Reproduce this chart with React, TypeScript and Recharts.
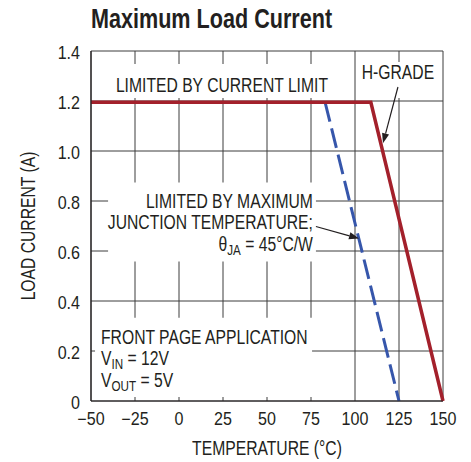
import React from "react";
import {
  CartesianGrid,
  Line,
  LineChart,
  ReferenceArea,
  ReferenceDot,
  ReferenceLine,
  XAxis,
  YAxis,
} from "recharts";

const FONT = "'Liberation Sans', Arial, sans-serif";
const SX = 0.805; // horizontal squeeze to mimic a condensed face
const FS = 19.5;
const TICK_SX = 0.92;
const TICK_FS = 17.5;
const INK = "#231f20";
const GRID = "#3c3c3c";
const RED = "#a3202b";
const BLUE = "#3656ab";

const tempTicks = [-50, -25, 0, 25, 50, 75, 100, 125, 150];
const currentTicks = [0, 0.2, 0.4, 0.6, 0.8, 1.0, 1.2, 1.4];

// H-grade: flat at current limit, then derates to zero at 150°C
const hGradeTemp = [-50, 109, 150];
const hGradeAmps = [1.195, 1.195, 0];

// junction temperature limit, θJA = 45°C/W
const tjTemp = [83, 125];
const tjAmps = [1.195, 0];

const hGrade = hGradeTemp.map((t, i) => ({ t, a: hGradeAmps[i] }));
const tjLimit = tjTemp.map((t, i) => ({ t, a: tjAmps[i] }));

// white label boxes (data coords) that hide the grid under the notes
const boxes = [
  { x1: -39, x2: 88.5, y1: 1.212, y2: 1.348 },
  { x1: 101.7, x2: 148.5, y1: 1.212, y2: 1.356 },
  { x1: -40.3, x2: 77.8, y1: 0.558, y2: 0.874 },
  { x1: -47.7, x2: 75.6, y1: 0.016, y2: 0.333 },
];

const fmtTemp = (v: number) => (v < 0 ? `\u2212${Math.abs(v)}` : `${v}`);
const fmtAmp = (v: number) => (v === 0 ? "0" : v.toFixed(1));

function Squeezed({
  x, y, anchor, rotate = 0, dy, sx = SX, size = FS, children,
}: {
  x: number; y: number; anchor: "start" | "middle" | "end"; rotate?: number; dy?: string;
  sx?: number; size?: number; children: React.ReactNode;
}) {
  return (
    <g transform={`translate(${x},${y}) rotate(${rotate}) scale(${sx},1)`}>
      <text x={0} y={0} dy={dy} textAnchor={anchor} fontFamily={FONT} fontSize={size} fill={INK}>
        {children}
      </text>
    </g>
  );
}

const XTick = (p: any) => (
  <Squeezed x={p.x} y={p.y} anchor="middle" dy="0.71em" sx={TICK_SX} size={TICK_FS}>
    {fmtTemp(p.payload.value)}
  </Squeezed>
);
const YTick = (p: any) => (
  <Squeezed x={p.x} y={p.y + 2} anchor="end" dy="0.355em" sx={TICK_SX} size={TICK_FS}>
    {fmtAmp(p.payload.value)}
  </Squeezed>
);

function sub(base: string, s: string, rest: string) {
  return [
    <tspan key="b">{base}</tspan>,
    <tspan key="s" fontSize={14.5} dy={4}>{s}</tspan>,
    <tspan key="r" dy={-4}>{rest}</tspan>,
  ];
}

function note(lines: React.ReactNode[], anchor: "start" | "middle" | "end", lead = 21.5) {
  return (p: any) => (
    <g transform={`translate(${p.cx},${p.cy}) scale(${SX},1)`}>
      <text textAnchor={anchor} fontFamily={FONT} fontSize={FS} fill={INK}>
        {lines.map((l, i) => (
          <tspan key={i} x={0} y={i * lead}>
            {l}
          </tspan>
        ))}
      </text>
    </g>
  );
}

function Arrow(p: any) {
  const { x1, y1, x2, y2 } = p;
  const ang = Math.atan2(y2 - y1, x2 - x1);
  const L = 10;
  const W = 3.6;
  const bx = x2 - L * Math.cos(ang);
  const by = y2 - L * Math.sin(ang);
  const nx = -Math.sin(ang) * W;
  const ny = Math.cos(ang) * W;
  return (
    <g>
      <line x1={x1} y1={y1} x2={bx} y2={by} stroke={INK} strokeWidth={1.2} />
      <polygon points={`${x2},${y2} ${bx + nx},${by + ny} ${bx - nx},${by - ny}`} fill={INK} />
    </g>
  );
}

export default function App() {
  return (
    <div style={{ position: "absolute", left: 0, top: 0, width: 471, height: 462, background: "#fff" }}>
      <div
        style={{
          position: "absolute",
          left: 91,
          top: 5,
          fontFamily: FONT,
          fontWeight: 700,
          fontSize: 27.5,
          lineHeight: "27.5px",
          color: INK,
          whiteSpace: "nowrap",
          transform: "scaleX(0.785)",
          transformOrigin: "left top",
        }}
      >
        Maximum Load Current
      </div>
      <LineChart width={471} height={462} margin={{ top: 51, right: 28, bottom: 0, left: 0 }}>
        <CartesianGrid stroke={GRID} strokeWidth={1} />
        <XAxis
          type="number"
          dataKey="t"
          domain={[-50, 150]}
          ticks={tempTicks}
          tick={XTick}
          tickLine={false}
          tickSize={0}
          tickMargin={12}
          height={61}
          axisLine={{ stroke: INK, strokeWidth: 1.2 }}
          label={(p: any) => {
            const vb = p.viewBox;
            return (
              <Squeezed x={vb.x + vb.width / 2} y={vb.y + 54} anchor="middle">
                TEMPERATURE (°C)
              </Squeezed>
            );
          }}
        />
        <YAxis
          type="number"
          domain={[0, 1.4]}
          ticks={currentTicks}
          tick={YTick}
          tickLine={false}
          tickSize={0}
          tickMargin={11}
          width={91}
          axisLine={{ stroke: INK, strokeWidth: 1.2 }}
          label={(p: any) => {
            const vb = p.viewBox;
            return (
              <Squeezed x={vb.x + 28} y={vb.y + vb.height / 2} anchor="middle" rotate={-90} dy="0.355em">
                LOAD CURRENT (A)
              </Squeezed>
            );
          }}
        />
        {boxes.map((b, i) => (
          <ReferenceArea key={i} {...b} fill="#fff" fillOpacity={1} stroke="none" />
        ))}
        <Line
          data={tjLimit}
          dataKey="a"
          type="linear"
          stroke={BLUE}
          strokeWidth={3}
          strokeDasharray="20 7"
          dot={false}
          isAnimationActive={false}
        />
        <Line
          data={hGrade}
          dataKey="a"
          type="linear"
          stroke={RED}
          strokeWidth={3.5}
          dot={false}
          isAnimationActive={false}
        />
        <ReferenceLine segment={[{ x: 124.4, y: 1.256 }, { x: 115.9, y: 1.031 }]} shape={Arrow} />
        <ReferenceLine segment={[{ x: 77.8, y: 0.698 }, { x: 102.3, y: 0.65 }]} shape={Arrow} />
        <ReferenceDot x={24.4} y={1.238} r={0} shape={note(["LIMITED BY CURRENT LIMIT"], "middle")} />
        <ReferenceDot x={124.4} y={1.289} r={0} shape={note(["H-GRADE"], "middle")} />
        <ReferenceDot
          x={76.1}
          y={0.774}
          r={0}
          shape={note(
            ["LIMITED BY MAXIMUM", "JUNCTION TEMPERATURE;", sub("θ", "JA", " = 45°C/W")],
            "end",
            22
          )}
        />
        <ReferenceDot
          x={-44.3}
          y={0.229}
          r={0}
          shape={note(
            ["FRONT PAGE APPLICATION", sub("V", "IN", " = 12V"), sub("V", "OUT", " = 5V")],
            "start",
            21.5
          )}
        />
      </LineChart>
    </div>
  );
}
